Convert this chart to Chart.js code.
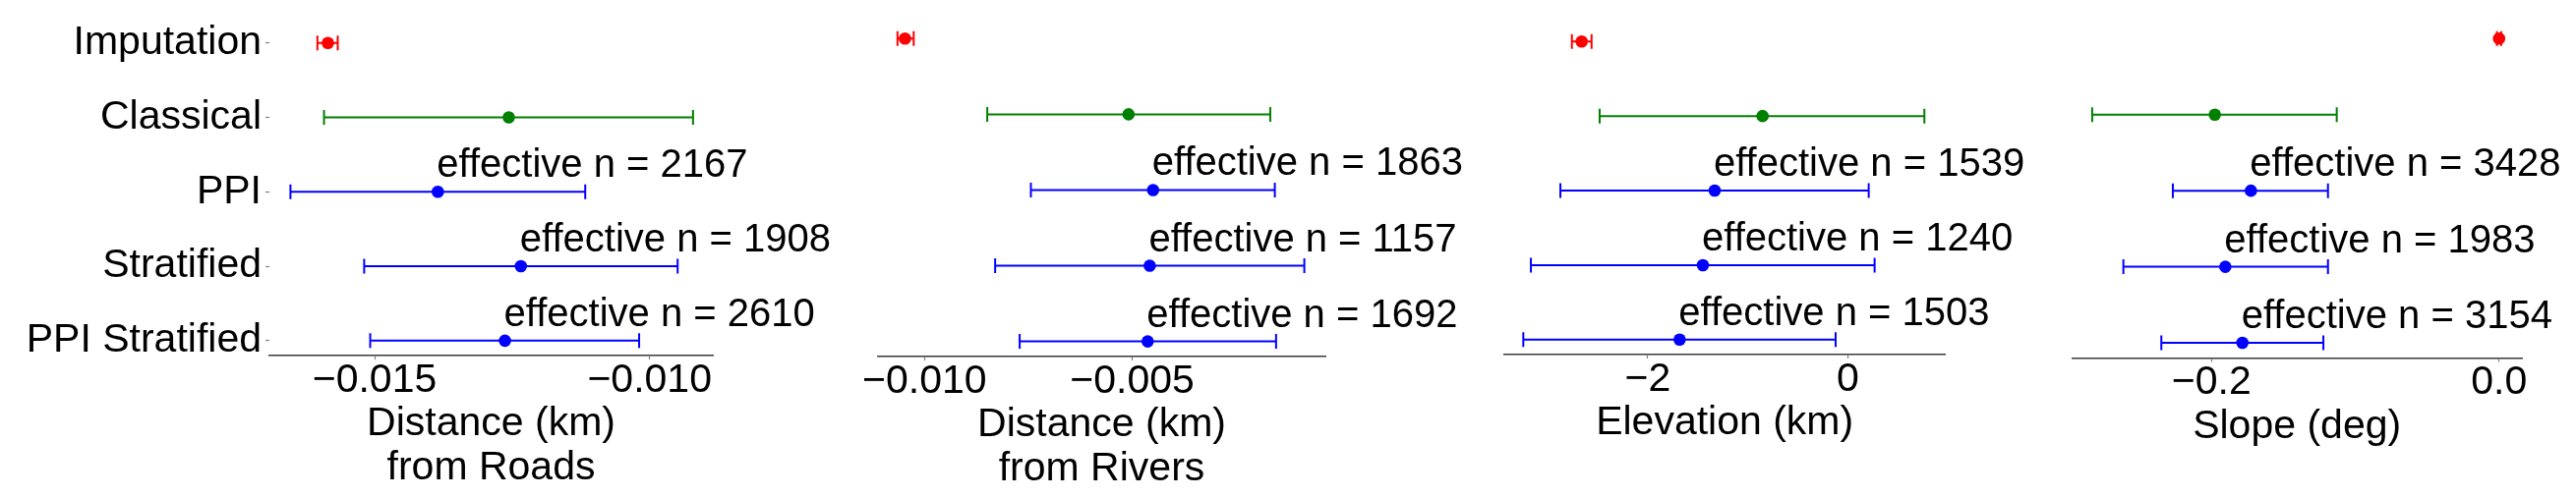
<!DOCTYPE html>
<html>
<head>
<meta charset="utf-8">
<script src="https://cdn.jsdelivr.net/npm/chart.js@4.4.1/dist/chart.umd.min.js"></script>
<style>
html, body { margin: 0; padding: 0; background: #ffffff; }
#wrap { position: relative; width: 2620px; height: 507px; overflow: hidden; background: #ffffff; }
#wrap canvas { position: absolute; left: 0; top: 0; }
</style>
</head>
<body>
<div id="wrap">
  <canvas id="c0" width="2620" height="507"></canvas>
  <canvas id="c1" width="2620" height="507"></canvas>
  <canvas id="c2" width="2620" height="507"></canvas>
  <canvas id="c3" width="2620" height="507"></canvas>
</div>
<script>
// ---------------- data ----------------
const categories = ["Imputation", "Classical", "PPI", "Stratified", "PPI Stratified"];

// Distance (km) from Roads
const roadsEst  = [-0.01585, -0.01256, -0.01385, -0.01234, -0.01263];
const roadsLow  = [-0.01604, -0.01592, -0.01653, -0.01519, -0.01508];
const roadsHigh = [-0.01567, -0.00921, -0.01117, -0.00949, -0.01019];
const roadsEffN = [null, null, 2167, 1908, 2610];
const roadsTicks = [-0.015, -0.010];
const roadsTickLabels = ["\u22120.015", "\u22120.010"];

// Distance (km) from Rivers
const riversEst  = [-0.01047, -0.00509, -0.00450, -0.00458, -0.00463];
const riversLow  = [-0.01065, -0.00849, -0.00744, -0.00830, -0.00771];
const riversHigh = [-0.01026, -0.00168, -0.00157, -0.00086, -0.00154];
const riversEffN = [null, null, 1863, 1157, 1692];
const riversTicks = [-0.010, -0.005];
const riversTickLabels = ["\u22120.010", "\u22120.005"];

// Elevation (km)
const elevEst  = [-2.662, -0.852, -1.331, -1.449, -1.682];
const elevLow  = [-2.760, -2.482, -2.875, -3.170, -3.246];
const elevHigh = [-2.563,  0.767,  0.210,  0.269, -0.121];
const elevEffN = [null, null, 1539, 1240, 1503];
const elevTicks = [-2, 0];
const elevTickLabels = ["\u22122", "0"];

// Slope (deg)
const slopeEst  = [0.0000, -0.1977, -0.1726, -0.1904, -0.1785];
const slopeLow  = [-0.0015, -0.2830, -0.2269, -0.2613, -0.2349];
const slopeHigh = [0.0015, -0.1129, -0.1190, -0.1190, -0.1222];
const slopeEffN = [null, null, 3428, 1983, 3154];
const slopeTicks = [-0.2, 0.0];
const slopeTickLabels = ["\u22120.2", "0.0"];

// ---------------- styles / layout ----------------
const rowColors = ["#ff0000", "#008000", "#0000ff", "#0000ff", "#0000ff"];
const FONT = "'Liberation Sans', Arial, Helvetica, sans-serif";
const W = 2620, H = 507;

const panels = [
  { id: "c0", est: roadsEst, low: roadsLow, high: roadsHigh, effN: roadsEffN,
    ticks: roadsTicks, tickLabels: roadsTickLabels, title: ["Distance (km)", "from Roads"],
    showY: true, left: 274, right: 725, top: 26.5, bottom: 362, min: -0.016913, max: -0.00885 },
  { id: "c1", est: riversEst, low: riversLow, high: riversHigh, effN: riversEffN,
    ticks: riversTicks, tickLabels: riversTickLabels, title: ["Distance (km)", "from Rivers"],
    showY: false, left: 892.7, right: 1348.3, top: 23.9, bottom: 363, min: -0.011126, max: -0.000347 },
  { id: "c2", est: elevEst, low: elevLow, high: elevHigh, effN: elevEffN,
    ticks: elevTicks, tickLabels: elevTickLabels, title: ["Elevation (km)"],
    showY: false, left: 1529.3, right: 1979, top: 27.1, bottom: 361, min: -3.443, max: 0.981 },
  { id: "c3", est: slopeEst, low: slopeLow, high: slopeHigh, effN: slopeEffN,
    ticks: slopeTicks, tickLabels: slopeTickLabels, title: ["Slope (deg)"],
    showY: false, left: 2107.3, right: 2565, top: 23.8, bottom: 364.5, min: -0.2971, max: 0.0159 }
];

function makePanel(p) {
  const datasets = [];
  // point estimates (drawn on top)
  datasets.push({
    data: categories.map((c, i) => ({ x: p.est[i], y: i })),
    showLine: false,
    pointRadius: 6.3, pointHoverRadius: 6.3,
    pointBackgroundColor: rowColors, pointBorderColor: rowColors, pointBorderWidth: 0,
    order: 0
  });
  // error bars with caps
  categories.forEach((c, i) => {
    datasets.push({
      data: [{ x: p.low[i], y: i }, { x: p.high[i], y: i }],
      showLine: true,
      borderColor: rowColors[i], borderWidth: 2,
      pointStyle: 'line', pointRotation: 90,
      pointRadius: 7.5, pointHoverRadius: 7.5,
      pointBorderColor: rowColors[i], pointBackgroundColor: rowColors[i], pointBorderWidth: 2,
      order: 1
    });
  });

  const fs = 41, lh = 45;
  const nT = p.title.length;
  const titlePad = H - lh / 2 - lh * (nT - 1) - (p.bottom + 69.8);

  const effPlugin = {
    id: 'effn' + p.id,
    afterDatasetsDraw(chart) {
      const c = chart.ctx, xs = chart.scales.x, ys = chart.scales.y;
      c.save();
      c.font = "40px " + FONT;
      c.fillStyle = "#000";
      c.textAlign = "left";
      c.textBaseline = "alphabetic";
      p.effN.forEach((n, i) => {
        if (n == null) return;
        c.fillText("effective n = " + n, xs.getPixelForValue(p.est[i]) - 1, ys.getPixelForValue(i) - 15);
      });
      c.restore();
    }
  };

  new Chart(document.getElementById(p.id), {
    type: 'scatter',
    data: { datasets },
    plugins: [effPlugin],
    options: {
      responsive: false,
      animation: false,
      devicePixelRatio: 1,
      events: [],
      layout: { padding: { left: p.showY ? 0 : p.left, right: W - p.right, top: p.top, bottom: 0 } },
      plugins: { legend: { display: false }, tooltip: { enabled: false } },
      scales: {
        x: {
          type: 'linear', position: 'bottom', min: p.min, max: p.max,
          afterBuildTicks: s => { s.ticks = p.ticks.map(v => ({ value: v })); },
          afterFit: s => { s.height = H - p.bottom; },
          ticks: {
            autoSkip: false, maxRotation: 0, minRotation: 0, padding: 1, color: "#000",
            font: { family: FONT, size: fs, lineHeight: 1 },
            callback: (v) => {
              let best = 0;
              p.ticks.forEach((t, k) => { if (Math.abs(t - v) < Math.abs(p.ticks[best] - v)) best = k; });
              return p.tickLabels[best];
            }
          },
          grid: { display: true, drawOnChartArea: false, drawTicks: true, tickLength: 4, tickColor: "#808080", tickWidth: 1.2 },
          border: { display: true, color: "#3a3a3a", width: 1.6 },
          title: { display: true, text: p.title, color: "#000",
                   font: { family: FONT, size: fs, lineHeight: lh / fs },
                   padding: { top: 0, bottom: titlePad } }
        },
        y: {
          type: 'linear', min: -0.2, max: 4.2, reverse: true, display: p.showY,
          afterBuildTicks: s => { s.ticks = categories.map((c, i) => ({ value: i })); },
          afterFit: s => { s.width = p.showY ? p.left : 0; },
          ticks: { autoSkip: false, padding: 4, color: "#000",
                   font: { family: FONT, size: fs },
                   callback: (v) => categories[Math.round(v)] },
          grid: { display: true, drawOnChartArea: false, drawTicks: true, tickLength: 4, tickColor: "#808080", tickWidth: 1.2 },
          border: { display: false }
        }
      }
    }
  });
}

panels.forEach(makePanel);
</script>
</body>
</html>
